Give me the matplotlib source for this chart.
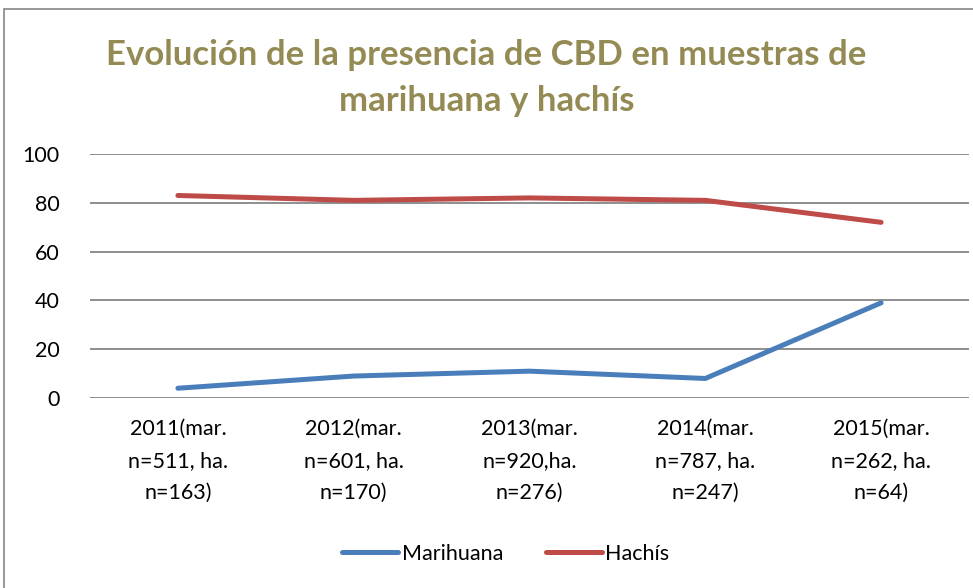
import matplotlib
matplotlib.use("Agg")
import matplotlib.pyplot as plt
from matplotlib.patches import Rectangle

plt.rcParams['font.family'] = ['Lato', 'DejaVu Sans']

categories = ['2011(mar.\nn=511, ha.\nn=163)', '2012(mar.\nn=601, ha.\nn=170)',
              '2013(mar.\nn=920,ha.\nn=276)', '2014(mar.\nn=787, ha.\nn=247)',
              '2015(mar.\nn=262, ha.\nn=64)']
marihuana = [4, 9, 11, 8, 39]
hachis = [83, 81, 82, 81, 72]
yticks = [0, 20, 40, 60, 80, 100]

fig = plt.figure(figsize=(9.73, 5.88), dpi=100)
fig.patches.append(Rectangle((4 / 973, -0.1), 1.1, 1.1 - 9 / 588, transform=fig.transFigure,
                             fill=False, edgecolor='#868686', linewidth=1.2))

ax = fig.add_axes([90 / 973, 190 / 588, 879 / 973, 244 / 588])
x = list(range(len(categories)))
ax.plot(x, marihuana, color='#4A7EBB', linewidth=3.6, solid_capstyle='round', label='Marihuana')
ax.plot(x, hachis, color='#BE4B48', linewidth=3.6, solid_capstyle='round', label='Hachís')

ax.set_xlim(-0.5, len(categories) - 0.5)
ax.set_ylim(0, 100)
ax.set_yticks(yticks)
ax.set_xticks(x)
ax.set_xticklabels(categories, linespacing=1.75)
ax.tick_params(axis='both', length=0, labelsize=15.5)
ax.tick_params(axis='y', pad=22)
ax.tick_params(axis='x', pad=15)
ax.grid(axis='y', color='#868686', linewidth=1.3)
ax.set_axisbelow(True)
for s in ax.spines.values():
    s.set_visible(False)

fig.text(0.5, 0.867, 'Evolución de la presencia de CBD en muestras de\nmarihuana y hachís',
         ha='center', va='center', fontsize=25, fontweight='bold', color='#948A54',
         linespacing=1.55)

leg = fig.legend(loc='center', bbox_to_anchor=(0.52, 0.058), ncol=2, frameon=False, fontsize=15.5,
                 handlelength=2.6, handletextpad=0.15, columnspacing=2.0)
for h in leg.legend_handles:
    h.set_solid_capstyle('round')

fig.savefig('out.png', dpi=100)
